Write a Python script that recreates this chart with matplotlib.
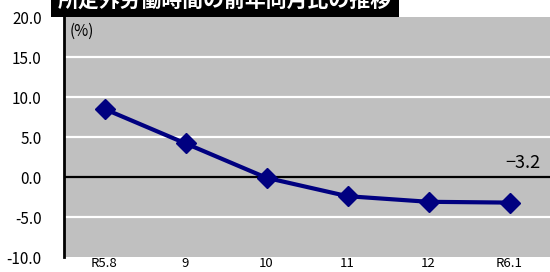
import matplotlib
matplotlib.use("Agg")
import matplotlib.pyplot as plt
import numpy as np

plt.rcParams['font.family'] = ['Noto Sans CJK JP', 'DejaVu Sans']

months = ['R5.8', '9', '10', '11', '12', 'R6.1']
values = [8.5, 4.2, -0.1, -2.4, -3.1, -3.2]
title = '所定外労働時間の前年同月比の推移'

fig = plt.figure(figsize=(5.5, 2.72), dpi=100)
ax = fig.add_axes([64/550, 15/272, 1 - 64/550, 240/272])
ax.set_facecolor('#C0C0C0')

x = np.arange(len(months))
ax.set_xlim(-0.5, len(months) - 0.5)
ax.set_ylim(-10, 20)
yt = np.arange(-10, 21, 5)
ax.set_yticks(yt)
ax.set_yticklabels(['%.1f' % v for v in yt], fontsize=11)
for v in yt[1:-1]:
    if v == 0:
        ax.axhline(v, color='black', lw=1.6, zorder=1)
    else:
        ax.axhline(v, color='white', lw=1.6, zorder=1)
ax.set_xticks(x)
ax.set_xticklabels(months, fontsize=9.5)
ax.tick_params(length=0)
ax.tick_params(axis='y', pad=16)
ax.tick_params(axis='x', pad=0)
for s in ['top', 'right', 'bottom']:
    ax.spines[s].set_visible(False)
ax.spines['left'].set_linewidth(2)
ax.spines['left'].set_color('black')

ax.plot(x, values, color='#000080', lw=3, marker='D', markersize=10, zorder=3)
ax.text(0.012, 0.975, '(%)', transform=ax.transAxes, fontsize=11, va='top', ha='left')
ax.text(x[-1] + 0.38, values[-1] + 5.0, '−3.2', fontsize=13, ha='right', va='center')

fig.text(58/550, 1.0, title, color='white', fontsize=15, fontweight='bold',
         ha='left', va='center',
         bbox=dict(facecolor='black', edgecolor='none', pad=5))

fig.savefig('out.png', dpi=100)
